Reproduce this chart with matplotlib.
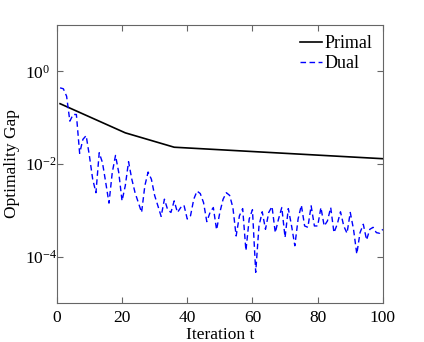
import numpy as np
import matplotlib
matplotlib.use('Agg')
import matplotlib.pyplot as plt

# primal gap: piecewise straight (in log scale) between these iterations
primal_t = [1, 21, 36, 100]
primal_gap = [0.20, 0.047, 0.023, 0.013]

dual_t = list(range(1, 101))
dual_gap = [
    0.44, 0.42, 0.29, 0.084, 0.117, 0.117, 0.017, 0.034, 0.041, 0.0149,
    0.0047, 0.0024, 0.0175, 0.0107, 0.0040, 0.00143, 0.0065, 0.0153, 0.0065, 0.0016,
    0.0034, 0.0112, 0.0047, 0.0024, 0.00147, 0.00090, 0.0034, 0.0067, 0.0047, 0.0021,
    0.00125, 0.00074, 0.00174, 0.00103, 0.00090, 0.0016, 0.00090, 0.00115, 0.00129, 0.00065,
    0.00076, 0.00174, 0.0026, 0.0023, 0.00147, 0.00057, 0.00090, 0.00115, 0.00038, 0.00090,
    0.00174, 0.0024, 0.0021, 0.00115, 0.00028, 0.00076, 0.00109, 0.000135, 0.00065, 0.00103,
    0.000046, 0.00046, 0.00093, 0.00039, 0.00090, 0.00121, 0.00033, 0.00065, 0.00115, 0.00026,
    0.00109, 0.00046, 0.000172, 0.00065, 0.00129, 0.00046, 0.00043, 0.00125, 0.00046, 0.00046,
    0.00115, 0.00046, 0.00059, 0.00115, 0.00033, 0.00050, 0.00093, 0.00046, 0.00032, 0.00090,
    0.00039, 0.000114, 0.00033, 0.00050, 0.00023, 0.00039, 0.00043, 0.00033, 0.00032, 0.00039,
]

plt.rcParams['font.family'] = ['Liberation Serif', 'DejaVu Serif']
plt.rcParams['mathtext.fontset'] = 'stix'

fig = plt.figure(figsize=(4.24, 3.42), dpi=100)
ax = fig.add_axes([0.134, 0.114, 0.769, 0.813])

ax.plot(primal_t, primal_gap, color='black', lw=1.2, label='Primal')
ax.plot(dual_t, dual_gap, color='blue', lw=1.0, ls=(0, (4, 2.5)), label='Dual')

ax.set_yscale('log')
ax.set_xlim(0, 100)
ax.set_ylim(1e-5, 1e1)
ax.set_xticks([0, 20, 40, 60, 80, 100])
ax.set_yticks([1e-4, 1e-2, 1e0])
ax.minorticks_off()
ax.tick_params(direction='in', top=True, right=True, labelsize=12.5, length=4, color='0.4')
ax.tick_params(axis='x', pad=5)
# matlab-style: the "10" of every y label starts at the same x
ax.tick_params(axis='y', pad=23)
for lbl in ax.get_yticklabels():
    lbl.set_horizontalalignment('left')
for s in ax.spines.values():
    s.set_color('0.4')
    s.set_linewidth(0.8)

ax.set_xlabel('Iteration t', fontsize=12.5, labelpad=1)
ax.set_ylabel('Optimality Gap', fontsize=12.5)
ax.yaxis.set_label_coords(-0.113, 0.5)

ax.legend(loc='upper right', frameon=False, fontsize=13, handlelength=1.25,
          handletextpad=0.12, labelspacing=0.15, borderaxespad=0.1,
          bbox_to_anchor=(0.995, 0.995))

fig.savefig('out.png', dpi=100)
